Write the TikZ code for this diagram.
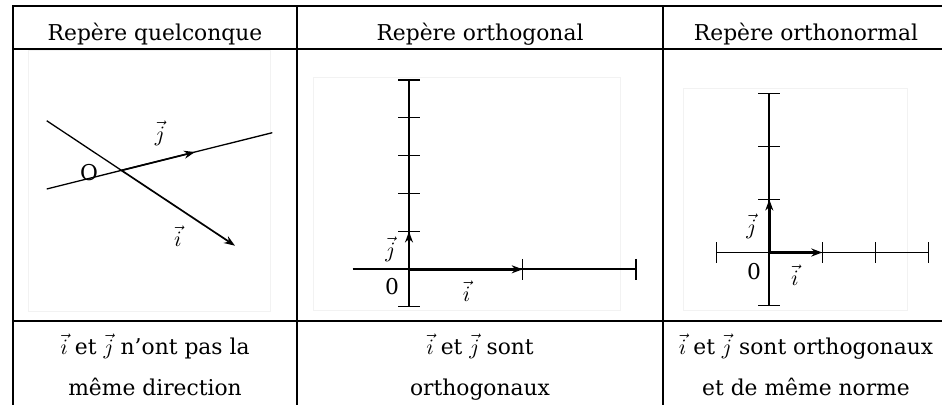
\documentclass[tikz,border=0pt]{standalone}
\usepackage{fontspec}
\setmainfont{DejaVu Serif}
\usepackage{tikz}
\usetikzlibrary{arrows.meta}
\tikzset{
  grille/.style={line width=1.4pt,line cap=rect},
  axe/.style={line width=0.85pt},
  vecteur/.style={-{Stealth[length=5.5pt,width=4pt,inset=1.8pt]},line width=1.2pt},
  titre/.style={anchor=base,inner sep=0pt,font=\fontsize{10.9}{13}\selectfont},
  cadre/.style={draw=black!5,line width=0.4pt}
}

\begin{document}
\begin{tikzpicture}[x=0.5pt,y=-0.5pt,
  etiquette/.style={inner sep=0pt,font=\fontsize{10.9}{13}\selectfont},
  graduation/.style={line width=0.75pt},
  droite/.style={line width=0.65pt}
]
  \useasboundingbox (0,0) rectangle (942,404);
  % tableau
  \foreach \ligne in {6,49,321}
    \draw[grille] (13,\ligne) -- (942,\ligne);
  \foreach \colonne in {13,297,663}
    \draw[grille] (\colonne,6) -- (\colonne,404);
  \node[titre] (titreA) at (155,40) {Repère quelconque};
  \node[titre] (titreB) at (480,40) {Repère orthogonal};
  \node[titre] (titreC) at (806,40) {Repère orthonormal};
  \node[titre] (texteA1) at (155,354) {$\vec{i}$ et $\vec{j}$ n’ont pas la};
  \node[titre] (texteA2) at (155,395) {même direction};
  \node[titre] (texteB1) at (480,354) {$\vec{i}$ et $\vec{j}$ sont};
  \node[titre] (texteB2) at (480,395) {orthogonaux};
  \node[titre] (texteC1) at (806,354) {$\vec{i}$ et $\vec{j}$ sont orthogonaux};
  \node[titre] (texteC2) at (806,395) {et de même norme};
  % repere quelconque
  \draw[cadre] (28,50) rectangle (270,311);
  \coordinate (O1) at (121.5,170.4);
  \coordinate (debI1) at (46.7,120.7);
  \coordinate (I1) at (235,245.7);
  \coordinate (debJ1) at (46.7,189);
  \coordinate (finJ1) at (272.3,132.7);
  \coordinate (J1) at (195,152);
  \draw[droite] (debI1) -- (O1);
  \draw[droite] (debJ1) -- (finJ1);
  \draw[vecteur,line width=0.85pt] (O1) -- (I1);
  \draw[vecteur,line width=0.85pt] (O1) -- (J1);
  \node[etiquette] (nomO1) at (89,172.5) {O};
  \node[etiquette] (nomJ1) at (160,133) {$\vec{j}$};
  \node[etiquette] (nomI1) at (178,236) {$\vec{i}$};
  % repere orthogonal
  \draw[cadre] (313,77) rectangle (620,310);
  \coordinate (O2) at (409,269.3);
  \coordinate (I2) at (522.7,269.3);
  \coordinate (J2) at (409,231.5);
  \draw[axe] (409,306.7) -- (409,80);
  \draw[axe] (352.7,269.3) -- (636,269.3);
  \foreach \y in {80,117.7,155.5,193.3,231.5,306.7}
    \draw[graduation] (398,\y) -- (420,\y);
  \foreach \x in {522.7,636}
    \draw[graduation] (\x,258.8) -- (\x,279.8);
  \draw[vecteur] (O2) -- (I2);
  \draw[vecteur] (O2) -- (J2);
  \node[etiquette] (nomO2) at (392,287) {0};
  \node[etiquette] (nomJ2) at (390.5,249) {$\vec{j}$};
  \node[etiquette] (nomI2) at (466.7,291) {$\vec{i}$};
  % repere orthonormal
  \draw[cadre] (683,88) rectangle (907,310);
  \coordinate (O3) at (769.3,252.5);
  \coordinate (I3) at (822.3,252.5);
  \coordinate (J3) at (769.3,199.5);
  \draw[axe] (769.3,305.5) -- (769.3,93.5);
  \draw[axe] (716.3,252.5) -- (928.3,252.5);
  \foreach \y in {93.5,146.5,199.5,305.5}
    \draw[graduation] (758.3,\y) -- (780.3,\y);
  \foreach \x in {716.3,822.3,875.3,928.3}
    \draw[graduation] (\x,242) -- (\x,263);
  \draw[vecteur] (O3) -- (I3);
  \draw[vecteur] (O3) -- (J3);
  \node[etiquette] (nomO3) at (754,272) {0};
  \node[etiquette] (nomJ3) at (751.5,226.7) {$\vec{j}$};
  \node[etiquette] (nomI3) at (795,275) {$\vec{i}$};
\end{tikzpicture}
\end{document}
